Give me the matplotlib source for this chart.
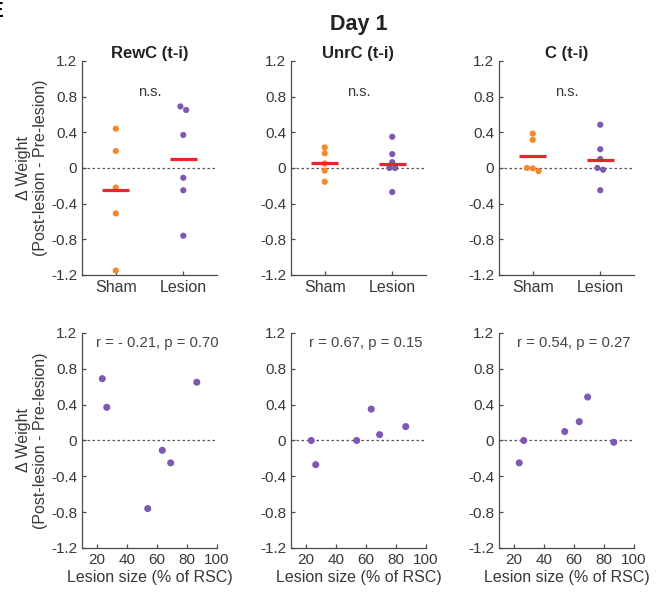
import numpy as np
import matplotlib
matplotlib.use('Agg')
import matplotlib.pyplot as plt
from matplotlib.ticker import FuncFormatter

plt.rcParams['font.family'] = ['Liberation Sans', 'DejaVu Sans']
plt.rcParams['axes.unicode_minus'] = False

# data
panels = ['RewC (t-i)', 'UnrC (t-i)', 'C (t-i)']
groups = ['Sham', 'Lesion']
sham_rewc = [0.44, 0.19, -0.22, -0.51, -1.15]
lesion_rewc = [0.69, 0.37, -0.76, -0.11, -0.25, 0.65]
sham_unrc = [0.23, 0.165, 0.05, -0.03, -0.155]
lesion_unrc = [0.0, -0.27, 0.0, 0.35, 0.065, 0.155]
sham_c = [0.385, 0.315, 0.0, -0.005, -0.035]
lesion_c = [-0.25, 0.0, 0.1, 0.21, 0.485, -0.02]
lesion_size = [23.5, 26.5, 53.8, 63.5, 69.1, 86.5]
stats_top = ['n.s.', 'n.s.', 'n.s.']
stats_bottom = ['r = - 0.21, p = 0.70', 'r = 0.67, p = 0.15', 'r = 0.54, p = 0.27']

sham_vals = [sham_rewc, sham_unrc, sham_c]
lesion_vals = [lesion_rewc, lesion_unrc, lesion_c]

orange = '#f7882a'
purple = '#7e59b3'
red = '#e8242c'
axcol = '#4a4a4a'
txtcol = '#383838'


def swarm(vals, thresh=0.06, step=0.085):
    # spread points that nearly overlap in y
    vals = np.asarray(vals, float)
    order = np.argsort(-vals)
    off = np.zeros(len(vals))
    clusters = []
    for i in order:
        if clusters and abs(vals[clusters[-1][-1]] - vals[i]) < thresh:
            clusters[-1].append(i)
        else:
            clusters.append([i])
    for c in clusters:
        n = len(c)
        for k, i in enumerate(c):
            off[i] = (k - (n - 1) / 2) * step
    return off


def yfmt(v, pos):
    return '0' if abs(v) < 1e-9 else '%.1f' % v


def style(ax):
    for s in ['top', 'right']:
        ax.spines[s].set_visible(False)
    for s in ['left', 'bottom']:
        ax.spines[s].set_color(axcol)
        ax.spines[s].set_linewidth(0.9)
    ax.tick_params(direction='in', length=3, width=0.9, color=axcol,
                   labelcolor=txtcol, labelsize=11)
    ax.set_ylim(-1.2, 1.2)
    ax.set_yticks(np.arange(-1.2, 1.21, 0.4))
    ax.yaxis.set_major_formatter(FuncFormatter(yfmt))


fig = plt.figure(figsize=(6.68, 5.93), dpi=100)
lefts = [0.1228, 0.4356, 0.7470]
w = 0.2021
ylab = '\u0394 Weight\n(Post-lesion - Pre-lesion)'

for j in range(3):
    # top row: group comparison
    ax = fig.add_axes([lefts[j], 0.5363, w, 0.3609])
    style(ax)
    ax.set_xlim(0.5, 2.5)
    ax.axhline(0, color='#555555', ls=(0, (2, 2)), lw=0.9, zorder=1)
    for g, (vals, col) in enumerate([(sham_vals[j], orange), (lesion_vals[j], purple)]):
        xs = g + 1 + swarm(vals)
        ax.scatter(xs, vals, s=20, color=col, edgecolors='none', zorder=3)
        m = np.mean(vals)
        ax.plot([g + 1 - 0.2, g + 1 + 0.2], [m, m], color=red, lw=2.3,
                solid_capstyle='butt', zorder=4)
    ax.set_xticks([1, 2])
    ax.set_xticklabels(groups, fontsize=11.5)
    ax.text(1.5, 0.85, stats_top[j], ha='center', va='center',
            fontsize=10.5, color=txtcol)
    ax.set_title(panels[j], fontsize=12, fontweight='bold', color='#222222', pad=-6)
    if j == 0:
        ax.set_ylabel(ylab, fontsize=11.5, color=txtcol, labelpad=2,
                      multialignment='center')

    # bottom row: correlation with lesion size
    bx = fig.add_axes([lefts[j], 0.0759, w, 0.3626])
    style(bx)
    bx.set_xlim(10, 100)
    bx.set_xticks([20, 40, 60, 80, 100])
    bx.axhline(0, color='#555555', ls=(0, (2, 2)), lw=0.9, zorder=1)
    bx.scatter(lesion_size, lesion_vals[j], s=26, color=purple,
               edgecolors='none', zorder=3)
    bx.text(60, 1.09, stats_bottom[j], ha='center', va='center',
            fontsize=10.7, color='#444444')
    bx.set_xlabel('Lesion size (% of RSC)', fontsize=11.5, color=txtcol, labelpad=2)
    if j == 0:
        bx.set_ylabel(ylab, fontsize=11.5, color=txtcol, labelpad=2,
                      multialignment='center')

fig.text(lefts[1] + w / 2, 0.958, 'Day 1', ha='center', va='center',
         fontsize=15.5, fontweight='bold', color='#222222')
fig.text(0.005, 0.998, 'E', ha='right', va='top', fontsize=16, fontweight='bold')

fig.savefig('out.png', dpi=100)
